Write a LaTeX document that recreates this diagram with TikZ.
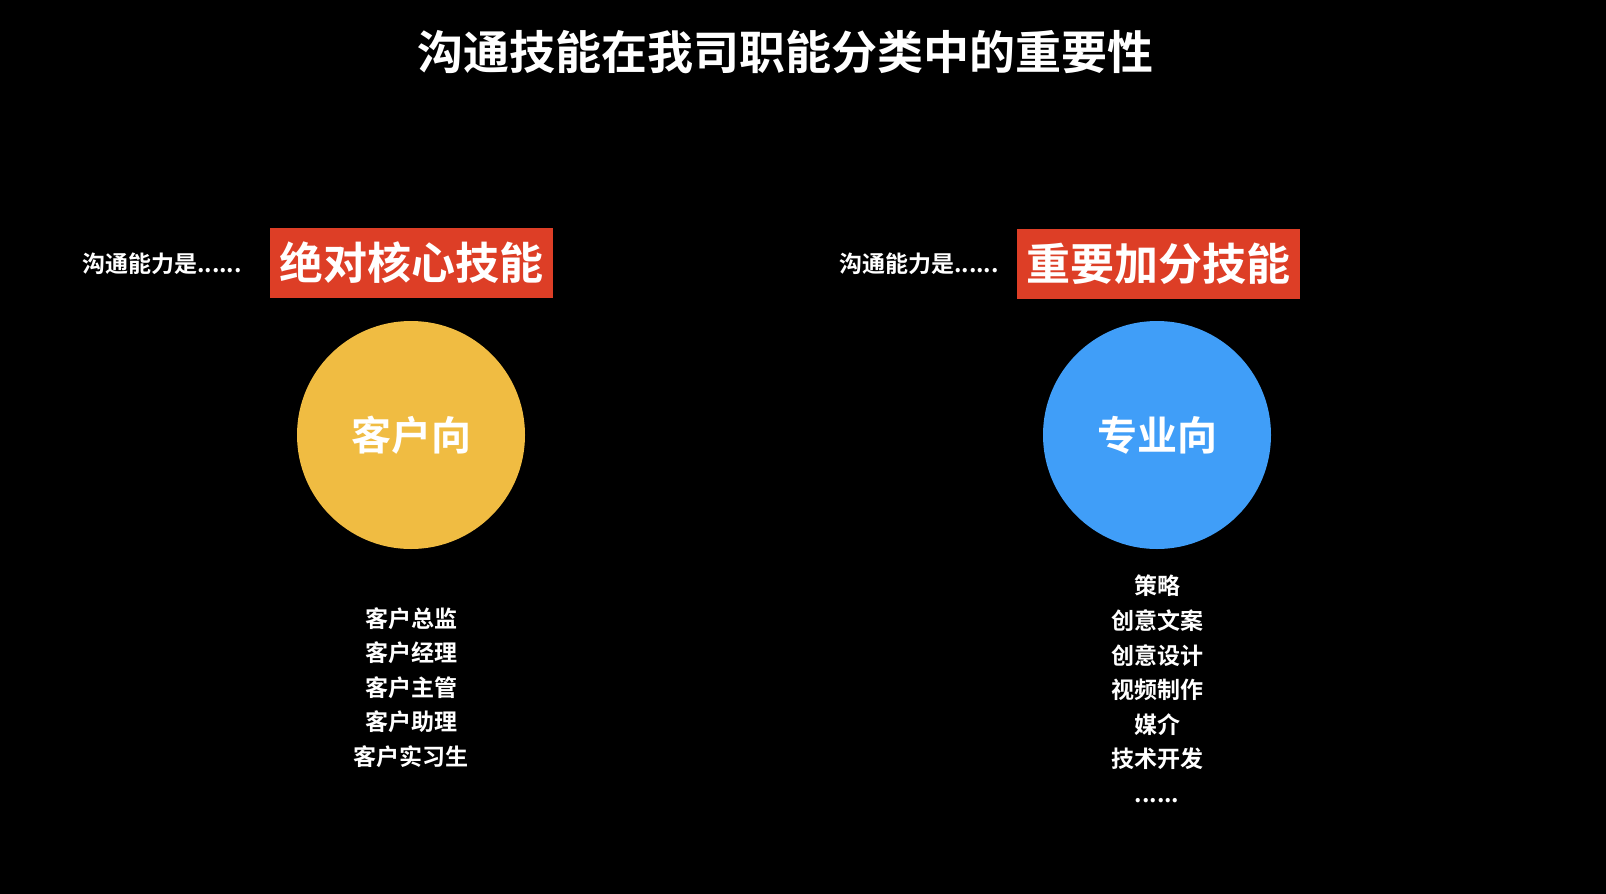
\documentclass[tikz,border=0pt]{standalone}
\usepackage{fontspec}
\setmainfont{Noto Sans CJK SC}[BoldFont={* Bold}]
\definecolor{redbox}{HTML}{DD3E26}
\definecolor{yel}{HTML}{F0BC42}
\definecolor{blu}{HTML}{409EF8}
\tikzset{
 txt/.style={text=white,font=\bfseries\fontsize{23}{27}\selectfont,inner sep=0},
 tag/.style={fill=redbox,text=white,font=\bfseries\fontsize{44}{50}\selectfont,minimum height=70,inner sep=4},
 circ/.style={circle,minimum size=228,inner sep=0,text=white,font=\bfseries\fontsize{40}{46}\selectfont},
 lst/.style={text=white,font=\bfseries\fontsize{23}{34.6}\selectfont,align=center,inner sep=0}
}
\begin{document}
\begin{tikzpicture}[x=1pt,y=-1pt]
\fill[black] (0,0) rectangle (1606,894);
\useasboundingbox (0,0) rectangle (1606,894);
\node[text=white,font=\bfseries\fontsize{46}{52}\selectfont] (title) at (785,52) {沟通技能在我司职能分类中的重要性};
\node[txt] (l1) at (162,264) {沟通能力是......};
\node[tag,minimum width=283] (lt) at (411.5,263) {绝对核心技能};
\node[circ,fill=yel] (lc) at (411,435) {客户向};
\node[lst,anchor=north] (ll) at (411,607) {客户总监\\客户经理\\客户主管\\客户助理\\客户实习生};
\node[txt] (r1) at (919,264) {沟通能力是......};
\node[tag,minimum width=283] (rt) at (1158,264) {重要加分技能};
\node[circ,fill=blu] (rc) at (1157,435) {专业向};
\node[lst,anchor=north] (rl) at (1157,575) {策略\\创意文案\\创意设计\\视频制作\\媒介\\技术开发\\......};
\end{tikzpicture}
\end{document}
